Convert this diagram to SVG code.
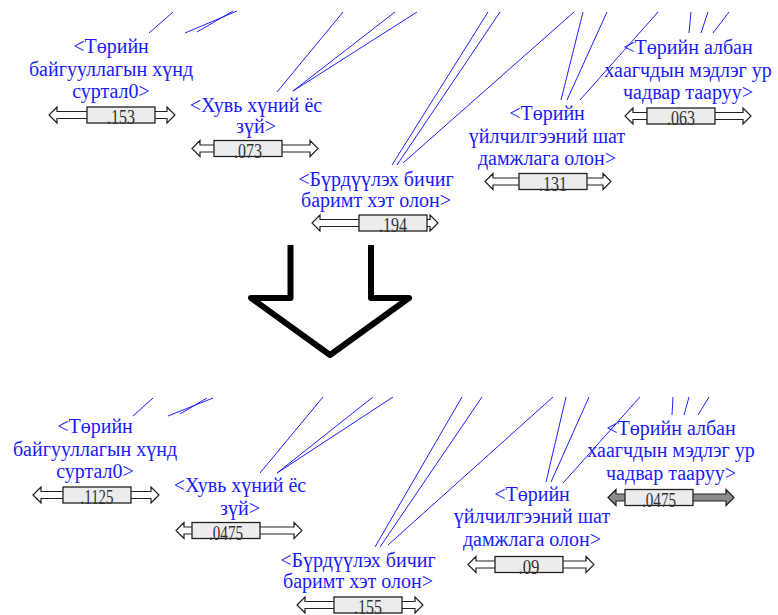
<svg xmlns="http://www.w3.org/2000/svg" xmlns:xlink="http://www.w3.org/1999/xlink" width="778" height="615" viewBox="0 0 778 615">
<style>
.lbl{font-family:"Liberation Serif","Times New Roman",serif;font-size:20px;fill:#1a1aff;text-anchor:middle}
.val{font-family:"Liberation Serif","Times New Roman",serif;font-size:20px;fill:#333;text-anchor:middle}
.box{fill:#ececec;stroke:#222;stroke-width:1.3}
.arr{fill:#fff;stroke:#222;stroke-width:1.2;stroke-linejoin:miter}
.arr.sel{fill:#8c8c8c}
.cn line{stroke:#2020ff;stroke-width:1}
</style>
<defs>
<path id="sl" d="M0,0 L8,-8 L8,-3.5 L118,-3.5 L118,-8 L126,0 L118,8 L118,3.5 L8,3.5 L8,8 Z"/>
</defs>
<rect width="778" height="615" fill="#fff"/>
<g id="connectors" class="cn">
<line x1="149" y1="33" x2="173" y2="12"/>
<line x1="185" y1="33" x2="237" y2="11"/>
<line x1="197" y1="32" x2="233" y2="11"/>
<line x1="277" y1="92" x2="343" y2="12"/>
<line x1="293" y1="91" x2="395" y2="12"/>
<line x1="293" y1="91" x2="417" y2="12"/>
<line x1="392" y1="165" x2="488" y2="12"/>
<line x1="397" y1="165" x2="500" y2="12"/>
<line x1="403" y1="163" x2="574" y2="12"/>
<line x1="561" y1="100" x2="583" y2="12"/>
<line x1="567" y1="100" x2="607" y2="12"/>
<line x1="580" y1="100" x2="658" y2="12"/>
<line x1="689" y1="33" x2="691" y2="12"/>
<line x1="701" y1="33" x2="708" y2="12"/>
<line x1="713" y1="33" x2="729" y2="12"/>
<line x1="133" y1="416" x2="153" y2="398"/>
<line x1="168" y1="416" x2="213" y2="398"/>
<line x1="180" y1="414" x2="207" y2="398"/>
<line x1="260" y1="473" x2="323" y2="397"/>
<line x1="277" y1="473" x2="373" y2="397"/>
<line x1="277" y1="473" x2="393" y2="397"/>
<line x1="375" y1="547" x2="462" y2="397"/>
<line x1="380" y1="547" x2="482" y2="397"/>
<line x1="388" y1="545" x2="553" y2="397"/>
<line x1="546" y1="482" x2="566" y2="397"/>
<line x1="551" y1="482" x2="589" y2="397"/>
<line x1="563" y1="483" x2="640" y2="397"/>
<line x1="672" y1="415" x2="673" y2="397"/>
<line x1="684" y1="415" x2="689" y2="397"/>
<line x1="698" y1="415" x2="709" y2="397"/>
</g>
<g id="bigArrow">
<path d="M290.5,245 V298 H251 L330,355 L409,298 H371 V245" fill="none" stroke="#000" stroke-width="6" stroke-linejoin="round"/>
</g>
<g id="nodeA">
<text class="lbl" x="111" y="53">&lt;Төрийн</text>
<text class="lbl" x="111" y="76">байгууллагын хүнд</text>
<text class="lbl" x="111" y="98">суртал0&gt;</text>
<use xlink:href="#sl" class="arr" transform="translate(49,115)"/>
<rect class="box" x="87" y="107" width="68" height="16"/>
<text class="val" x="121" y="124" textLength="28" lengthAdjust="spacingAndGlyphs">.153</text>
</g>
<g id="nodeB">
<text class="lbl" x="256" y="112">&lt;Хувь хүний ёс</text>
<text class="lbl" x="256" y="133">зүй&gt;</text>
<use xlink:href="#sl" class="arr" transform="translate(192,148.5)"/>
<rect class="box" x="214" y="140.5" width="68" height="16"/>
<text class="val" x="248" y="157.5" textLength="28" lengthAdjust="spacingAndGlyphs">.073</text>
</g>
<g id="nodeC">
<text class="lbl" x="376" y="186">&lt;Бүрдүүлэх бичиг</text>
<text class="lbl" x="376" y="207">баримт хэт олон&gt;</text>
<use xlink:href="#sl" class="arr" transform="translate(312,223)"/>
<rect class="box" x="359" y="215" width="68" height="16"/>
<text class="val" x="393" y="232" textLength="28" lengthAdjust="spacingAndGlyphs">.194</text>
</g>
<g id="nodeD">
<text class="lbl" x="547" y="120">&lt;Төрийн</text>
<text class="lbl" x="547" y="143">үйлчилгээний шат</text>
<text class="lbl" x="547" y="165">дамжлага олон&gt;</text>
<use xlink:href="#sl" class="arr" transform="translate(485,181.5)"/>
<rect class="box" x="519" y="173.5" width="68" height="16"/>
<text class="val" x="553" y="190.5" textLength="28" lengthAdjust="spacingAndGlyphs">.131</text>
</g>
<g id="nodeE">
<text class="lbl" x="688" y="54">&lt;Төрийн албан</text>
<text class="lbl" x="688" y="77">хаагчдын мэдлэг ур</text>
<text class="lbl" x="688" y="99">чадвар тааруу&gt;</text>
<use xlink:href="#sl" class="arr" transform="translate(625,116)"/>
<rect class="box" x="647" y="108" width="68" height="16"/>
<text class="val" x="681" y="125" textLength="28" lengthAdjust="spacingAndGlyphs">.063</text>
</g>
<g id="nodeA2">
<text class="lbl" x="95" y="433">&lt;Төрийн</text>
<text class="lbl" x="95" y="456">байгууллагын хүнд</text>
<text class="lbl" x="95" y="478">суртал0&gt;</text>
<use xlink:href="#sl" class="arr" transform="translate(33,495)"/>
<rect class="box" x="63" y="487" width="68" height="16"/>
<text class="val" x="97" y="504" textLength="33" lengthAdjust="spacingAndGlyphs">.1125</text>
</g>
<g id="nodeB2">
<text class="lbl" x="240" y="492">&lt;Хувь хүний ёс</text>
<text class="lbl" x="240" y="515">зүй&gt;</text>
<use xlink:href="#sl" class="arr" transform="translate(176,530.5)"/>
<rect class="box" x="192" y="522.5" width="68" height="16"/>
<text class="val" x="226" y="539.5" textLength="34" lengthAdjust="spacingAndGlyphs">.0475</text>
</g>
<g id="nodeC2">
<text class="lbl" x="358" y="567">&lt;Бүрдүүлэх бичиг</text>
<text class="lbl" x="358" y="588">баримт хэт олон&gt;</text>
<use xlink:href="#sl" class="arr" transform="translate(297,605)"/>
<rect class="box" x="334" y="597" width="68" height="16"/>
<text class="val" x="368" y="614" textLength="28" lengthAdjust="spacingAndGlyphs">.155</text>
</g>
<g id="nodeD2">
<text class="lbl" x="532" y="501">&lt;Төрийн</text>
<text class="lbl" x="532" y="523">үйлчилгээний шат</text>
<text class="lbl" x="532" y="546">дамжлага олон&gt;</text>
<use xlink:href="#sl" class="arr" transform="translate(468,564.5)"/>
<rect class="box" x="495" y="556.5" width="68" height="16"/>
<text class="val" x="529" y="573.5" textLength="21" lengthAdjust="spacingAndGlyphs">.09</text>
</g>
<g id="nodeE2">
<text class="lbl" x="671" y="435">&lt;Төрийн албан</text>
<text class="lbl" x="671" y="457">хаагчдын мэдлэг ур</text>
<text class="lbl" x="671" y="480">чадвар тааруу&gt;</text>
<use xlink:href="#sl" class="arr sel" transform="translate(608,497.5)"/>
<rect class="box" x="625" y="489.5" width="68" height="16"/>
<text class="val" x="659" y="506.5" textLength="34" lengthAdjust="spacingAndGlyphs">.0475</text>
</g>
</svg>
